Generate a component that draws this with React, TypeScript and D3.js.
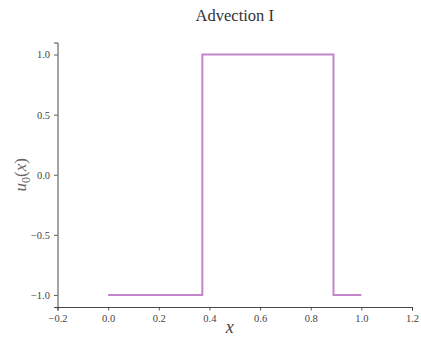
import { useEffect, useRef } from "react";
import * as d3 from "d3";

// initial condition u0(x): square wave sampled at breakpoints
const xs = [0.0, 0.372, 0.372, 0.89, 0.89, 1.0];
const us = [-1.0, -1.0, 1.0, 1.0, -1.0, -1.0];
const xTicks = [-0.2, 0.0, 0.2, 0.4, 0.6, 0.8, 1.0, 1.2];
const yTicks = [-1.0, -0.5, 0.0, 0.5, 1.0];

const fmt = (v: number) => (v < 0 ? "\u2212" + Math.abs(v).toFixed(1) : v.toFixed(1));

export default function App() {
  const ref = useRef<SVGSVGElement>(null);

  useEffect(() => {
    const el = ref.current;
    if (!el) return;
    const W = 421, H = 340;
    const M = { top: 42.5, right: 9, bottom: 33, left: 57.5 };

    const svg = d3.select(el);
    svg.selectAll("*").remove();

    const x = d3.scaleLinear().domain([-0.2, 1.2]).range([M.left, W - M.right]);
    const y = d3.scaleLinear().domain([-1.1, 1.1]).range([H - M.bottom, M.top]);
    const font = "Liberation Serif, DejaVu Serif, serif";
    const ink = "#333";

    // title
    svg.append("text")
      .attr("x", (M.left + W - M.right) / 2).attr("y", 21)
      .attr("text-anchor", "middle")
      .attr("font-family", font).attr("font-size", 16.5)
      .attr("fill", "#333")
      .text("Advection I");

    // left axis
    svg.append("g")
      .attr("transform", `translate(${M.left},0)`)
      .call(d3.axisLeft(y).tickValues(yTicks).tickFormat((v) => fmt(+v)).tickSize(3.5).tickPadding(4))
      .attr("font-family", font).attr("font-size", 10.5)
      .call((g) => g.select(".domain").attr("stroke", ink).attr("stroke-width", 0.9))
      .call((g) => g.selectAll(".tick line").attr("stroke", ink).attr("stroke-width", 0.8))
      .call((g) => g.selectAll(".tick text").attr("fill", "#444"));

    // bottom axis
    svg.append("g")
      .attr("transform", `translate(0,${H - M.bottom})`)
      .call(d3.axisBottom(x).tickValues(xTicks).tickFormat((v) => fmt(+v)).tickSize(3.5).tickPadding(4))
      .attr("font-family", font).attr("font-size", 10.5)
      .call((g) => g.select(".domain").attr("stroke", ink).attr("stroke-width", 0.9))
      .call((g) => g.selectAll(".tick line").attr("stroke", ink).attr("stroke-width", 0.8))
      .call((g) => g.selectAll(".tick text").attr("fill", "#444"));

    // curve
    const pts = xs.map((v, i) => [v, us[i]] as [number, number]);
    svg.append("path")
      .datum(pts)
      .attr("d", d3.line<[number, number]>().x((d) => x(d[0])).y((d) => y(d[1])))
      .attr("fill", "none")
      .attr("stroke", "#c386c9")
      .attr("stroke-width", 2);

    // axis labels
    svg.append("text")
      .attr("x", (M.left + W - M.right) / 2 - 5).attr("y", 333)
      .attr("text-anchor", "middle")
      .attr("font-family", font).attr("font-size", 18).attr("font-style", "italic")
      .attr("fill", "#444")
      .text("x");

    const yl = svg.append("text")
      .attr("transform", `translate(26,${y(0)}) rotate(-90)`)
      .attr("text-anchor", "middle")
      .attr("font-family", font).attr("font-size", 17)
      .attr("fill", "#666");
    yl.append("tspan").attr("font-style", "italic").text("u");
    yl.append("tspan").attr("dy", 4).attr("font-size", 12).text("0");
    yl.append("tspan").attr("dy", -4).text("(");
    yl.append("tspan").attr("font-style", "italic").text("x");
    yl.append("tspan").text(")");
  }, []);

  return (
    <svg ref={ref} width={421} height={340}
      style={{ position: "absolute", left: 0, top: 0, background: "#fff" }} />
  );
}
